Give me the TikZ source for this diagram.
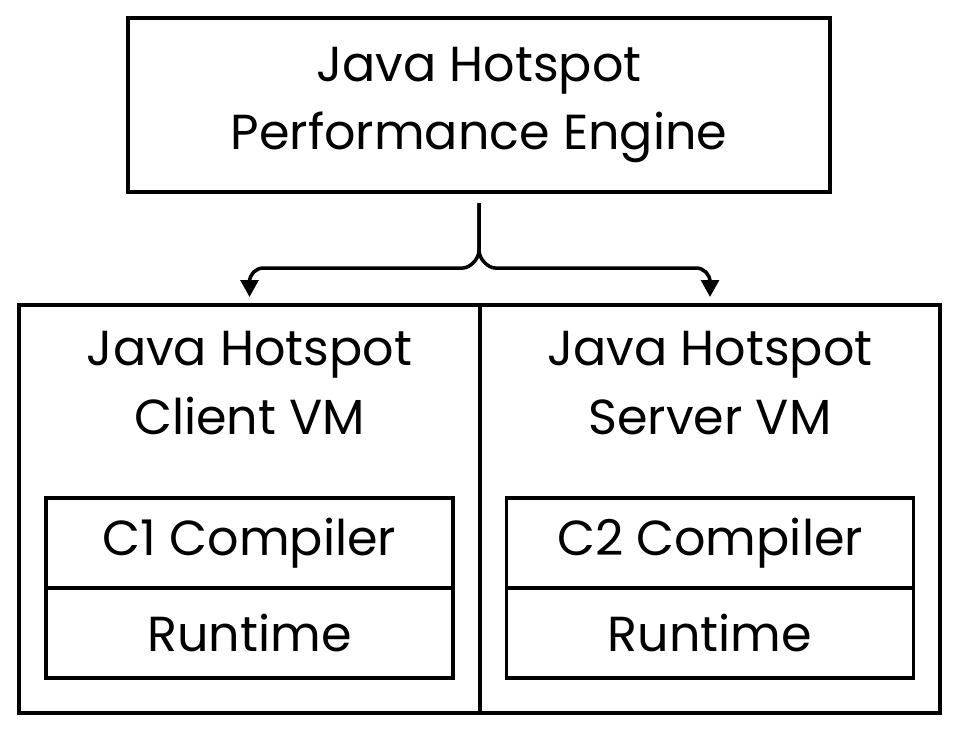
\documentclass[tikz,border=0pt]{standalone}
\usepackage{fontspec}
\setmainfont{Poppins}
\usetikzlibrary{arrows.meta, positioning}

\begin{document}
\begin{tikzpicture}[
        > = {Triangle[length=0.42cm, width=0.44cm]}, % arrow head style
        line width = 2.5pt, % line style
        node distance = 0cm, % boxes touch each other
        font = \fontsize{35}{49}\selectfont
    ]

    \tikzstyle{box}=[
        draw = black,
        line width = 2.5pt,
        rectangle,
        outer sep = 0pt,
        align = center
    ]
    \tikzstyle{part}=[box, minimum width = 10.175cm, minimum height = 2.25cm]
    \tikzstyle{title}=[align = center, inner sep = 0pt]

    \useasboundingbox (0,0) rectangle (24,-18.35);

    \node[box, minimum width = 17.55cm, minimum height = 4.35cm] (engine) at (11.975,-2.625) {Java Hotspot\\Performance Engine};
    \node[box, minimum width = 11.525cm, minimum height = 10.2cm] (client) at (6.2375,-12.725) {};
    \node[box, minimum width = 11.5cm, minimum height = 10.2cm, right = of client] (server) {};

    \node[title] (clienttitle) at ([yshift=-1.95cm]client.north) {Java Hotspot\\Client VM};
    \node[title] (servertitle) at ([yshift=-1.95cm]server.north) {Java Hotspot\\Server VM};

    \node[part, above = 0.875cm of client.south] (c1rt) {Runtime};
    \node[part, above = of c1rt] (c1) {C1 Compiler};
    \node[part, above = 0.875cm of server.south] (c2rt) {Runtime};
    \node[part, above = of c2rt] (c2) {C2 Compiler};

    \draw[->, rounded corners = 0.35cm, shorten < = 0.28cm, shorten > = 0.2cm] (engine.south) -- ++(0,-1.1) .. controls +(0,-0.6) and +(0.5,0) .. ++(-0.75,-0.8) -| (client.north);
    \draw[->, rounded corners = 0.35cm, shorten < = 0.28cm, shorten > = 0.2cm] (engine.south) -- ++(0,-1.1) .. controls +(0,-0.6) and +(-0.5,0) .. ++(0.75,-0.8) -| (server.north);
\end{tikzpicture}
\end{document}
